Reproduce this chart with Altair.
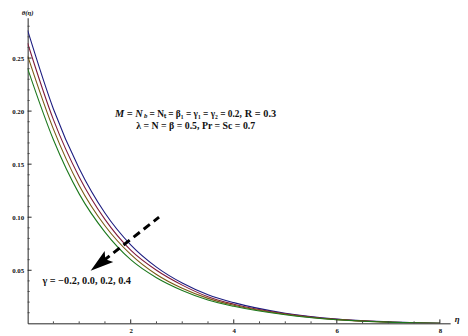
import altair as alt
import pandas as pd

# ---- data ----
eta = [0, 0.5, 1, 1.5, 2, 2.5, 3, 3.5, 4, 5, 6, 7, 8]
gamma_labels = ["-0.2", "0.0", "0.2", "0.4"]
theta_m02 = [0.276, 0.202, 0.146, 0.104, 0.074, 0.053, 0.038, 0.027, 0.0195, 0.0095, 0.004, 0.0014, 0.0]
theta_00 = [0.264, 0.192, 0.138, 0.098, 0.069, 0.050, 0.036, 0.025, 0.018, 0.009, 0.0037, 0.0013, 0.0]
theta_02 = [0.252, 0.183, 0.130, 0.092, 0.065, 0.046, 0.033, 0.0235, 0.017, 0.0085, 0.0035, 0.0012, 0.0]
theta_04 = [0.240, 0.173, 0.122, 0.086, 0.060, 0.043, 0.031, 0.022, 0.016, 0.008, 0.0033, 0.0011, 0.0]
colors = ["#1c1c80", "#801c3c", "#7a5a14", "#1c781c"]

x_major = [2, 4, 6, 8]
x_minor = [0.5, 1, 1.5, 2.5, 3, 3.5, 4.5, 5, 5.5, 6.5, 7, 7.5]
y_major = [0.05, 0.10, 0.15, 0.20, 0.25]
y_minor = [0.01, 0.02, 0.03, 0.04, 0.06, 0.07, 0.08, 0.09, 0.11, 0.12, 0.13, 0.14,
           0.16, 0.17, 0.18, 0.19, 0.21, 0.22, 0.23, 0.24, 0.26, 0.27, 0.28]

arrow_eta = [2.55, 1.47]
arrow_theta = [0.100, 0.059]
head_eta = [1.40]
head_theta = [0.0563]

rows = []
for g, ys in zip(gamma_labels, [theta_m02, theta_00, theta_02, theta_04]):
    for e, t in zip(eta, ys):
        rows.append({"eta": e, "theta": t, "gamma": g})
df = pd.DataFrame(rows)

W, H = 430, 311
xs = alt.Scale(domain=[0, 8.2], nice=False)
ys_ = alt.Scale(domain=[0, 0.288], nice=False)
FONT = "Liberation Serif"

lines = alt.Chart(df).mark_line(strokeWidth=1.1, interpolate="monotone", clip=True).encode(
    x=alt.X("eta:Q", scale=xs,
            axis=alt.Axis(values=x_major, title=None, ticks=False, grid=False, labelFont=FONT,
                          labelFontSize=7, labelFontWeight="bold", labelColor="#111",
                          domainColor="#222", labelPadding=3)),
    y=alt.Y("theta:Q", scale=ys_,
            axis=alt.Axis(values=y_major, title=None, ticks=False, grid=False, labelFont=FONT,
                          labelFontSize=7, labelFontWeight="bold", labelColor="#111",
                          domainColor="#222", labelPadding=4, format=".2f")),
    color=alt.Color("gamma:N", scale=alt.Scale(domain=gamma_labels, range=colors), legend=None),
    detail="gamma:N",
)

ytm = alt.Chart(pd.DataFrame({"v": y_major})).mark_rule(color="#222").encode(
    y=alt.Y("v:Q", scale=ys_), x=alt.value(0), x2=alt.value(4))
ytn = alt.Chart(pd.DataFrame({"v": y_minor})).mark_rule(color="#444").encode(
    y=alt.Y("v:Q", scale=ys_), x=alt.value(0), x2=alt.value(2))
xtm = alt.Chart(pd.DataFrame({"v": x_major})).mark_rule(color="#222").encode(
    x=alt.X("v:Q", scale=xs), y=alt.value(H), y2=alt.value(H - 4))
xtn = alt.Chart(pd.DataFrame({"v": x_minor})).mark_rule(color="#444").encode(
    x=alt.X("v:Q", scale=xs), y=alt.value(H), y2=alt.value(H - 2))

arrow = alt.Chart(pd.DataFrame({"e": arrow_eta, "t": arrow_theta})).mark_line(
    color="black", strokeWidth=3, strokeDash=[8, 5]).encode(
    x=alt.X("e:Q", scale=xs), y=alt.Y("t:Q", scale=ys_))
head = alt.Chart(pd.DataFrame({"e": head_eta, "t": head_theta})).mark_point(
    shape="M0,-1L0.6,1L0,0.6L-0.6,1Z", filled=True, color="black", opacity=1,
    size=560, angle=232, strokeWidth=0).encode(
    x=alt.X("e:Q", scale=xs), y=alt.Y("t:Q", scale=ys_))

def txt(s, x, y, size=10, align="left", style="normal"):
    return alt.Chart(pd.DataFrame({"s": [s]})).mark_text(
        font=FONT, fontSize=size, fontWeight="bold", fontStyle=style, align=align,
        baseline="middle", color="#111").encode(
        text="s:N", x=alt.value(x), y=alt.value(y))

ann = [
    txt("M = N", 89, 98, 10.5, style="italic"),
    txt("b", 118.5, 100.5, 7, style="italic"),
    txt("= Nₜ = β₁ = γ₁ = γ₂ = 0.2,", 124, 98.5, 9.5),
    txt("R = 0.3", 221, 98, 10.5),
    txt("λ = N = β = 0.5, Pr = Sc = 0.7", 171, 110.5, 10, align="center"),
    txt("γ = −0.2, 0.0, 0.2, 0.4", 15, 268, 10.5),
    txt("θ(η)", 0, -5, 7, align="center", style="italic"),
    txt("η", 437, 307, 9, align="center", style="italic"),
]

chart = alt.layer(lines, ytm, ytn, xtm, xtn, arrow, head, *ann).properties(
    width=W, height=H,
    padding={"left": 20, "top": 7, "right": 10, "bottom": 10},
    autosize="none",
    background="white",
).configure_view(stroke=None)

chart.save("out.html", embed_options={"renderer": "svg", "actions": False})
